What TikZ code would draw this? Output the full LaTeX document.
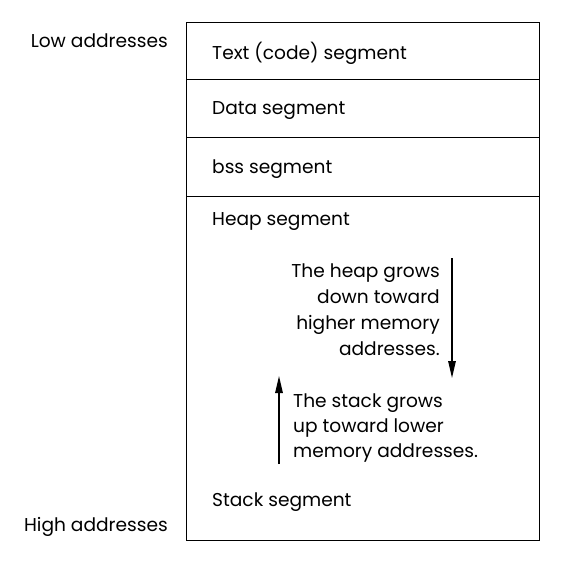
\documentclass[tikz,border=0pt]{standalone}
\usepackage{fontspec}
\setmainfont{Poppins}
\usetikzlibrary{positioning,arrows.meta}

\tikzset{
  seg/.style={draw, line width=1pt, minimum width=353pt, inner sep=0pt, outer sep=0pt},
  lbl/.style={font=\fontsize{18.6}{26}\selectfont, inner sep=0pt},
  seglbl/.style={lbl, anchor=west, xshift=26pt},
  growarrow/.style={line width=1.4pt, -{Triangle[length=17pt,width=7.5pt]}}
}

\begin{document}
\begin{tikzpicture}[x=1pt,y=-1pt]
  \useasboundingbox (0,0) rectangle (562,580);
  % memory segments
  \node[seg, minimum height=57pt, anchor=north west] (text) at (186,23) {};
  \node[seg, minimum height=58pt, anchor=north] (data) at (text.south) {};
  \node[seg, minimum height=58pt, anchor=north] (bss) at (data.south) {};
  \node[seg, minimum height=344pt, anchor=north] (heap) at (bss.south) {};
  \node[seglbl, yshift=-2pt] (textlbl) at (text.west) {Text (code) segment};
  \node[seglbl, yshift=-2pt] (datalbl) at (data.west) {Data segment};
  \node[seglbl, yshift=-2pt] (bsslbl) at (bss.west) {bss segment};
  \node[seglbl, yshift=-26pt] (heaplbl) at (heap.north west) {Heap segment};
  \node[seglbl, yshift=38pt] (stacklbl) at (heap.south west) {Stack segment};
  % address labels
  \node[lbl, anchor=east] (low) at (168,41) {Low addresses};
  \node[lbl, anchor=east] (high) at (168,527) {High addresses};
  % growth notes
  \node[lbl, align=right, anchor=east] (heapnote) at (440,310) {The heap grows\\down toward\\higher memory\\addresses.};
  \node[lbl, align=left, anchor=west, font=\fontsize{18.6}{25}\selectfont] (stacknote) at (293,428) {The stack grows\\up toward lower\\memory addresses.};
  \coordinate (heapfrom) at (452,258);
  \coordinate (heapto) at (452,378);
  \coordinate (stackfrom) at (279,464);
  \coordinate (stackto) at (279,376);
  \draw[growarrow] (heapfrom) -- (heapto);
  \draw[growarrow] (stackfrom) -- (stackto);
\end{tikzpicture}
\end{document}
